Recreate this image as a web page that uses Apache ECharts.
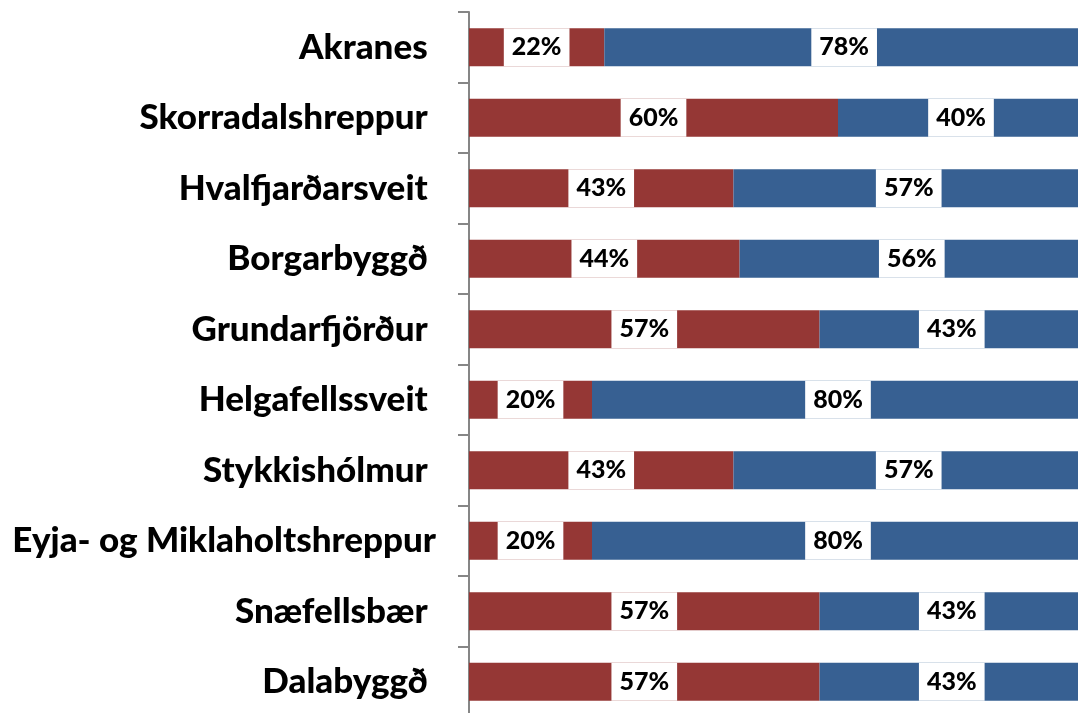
<!DOCTYPE html>
<html>
<head>
<meta charset="utf-8">
<script src="https://cdn.jsdelivr.net/npm/echarts@6/dist/echarts.min.js"></script>
<style>
html,body{margin:0;padding:0;background:#fff;}
#chart{width:1078px;height:713px;}
</style>
</head>
<body>
<div id="chart"></div>
<script>
const categories = ["Akranes ", "Skorradalshreppur ", "Hvalfjarðarsveit ", "Borgarbyggð ", "Grundarfjörður ", "Helgafellssveit ", "Stykkishólmur ", "Eyja- og Miklaholtshreppur", "Snæfellsbær ", "Dalabyggð "];
const redValues = [22, 60, 43, 44, 57, 20, 43, 20, 57, 57];
const blueValues = [78, 40, 57, 56, 43, 80, 57, 80, 43, 43];

const chart = echarts.init(document.getElementById('chart'), null, {renderer: 'canvas'});
const labelStyle = {
  show: true,
  position: 'inside',
  formatter: p => p.value + '%',
  fontFamily: 'Lato',
  fontWeight: 900,
  fontSize: 25,
  color: '#000',
  backgroundColor: '#fff',
  padding: [0, 8],
  lineHeight: 38
};
chart.setOption({
  animation: false,
  grid: {left: 469, top: 12, width: 615, height: 705, outerBoundsMode: 'none', containLabel: false},
  xAxis: {type: 'value', min: 0, max: 100, show: false},
  yAxis: {
    type: 'category',
    data: categories,
    inverse: true,
    axisLine: {show: true, lineStyle: {color: '#868686', width: 2}},
    axisTick: {show: true, length: 11, lineStyle: {color: '#868686', width: 2}},
    axisLabel: {
      margin: 33,
      fontFamily: 'Lato',
      fontWeight: 900,
      fontSize: 35,
      color: '#000'
    }
  },
  series: [
    {type: 'bar', stack: 'a', data: redValues, barWidth: 38, itemStyle: {color: '#953735'}, label: labelStyle},
    {type: 'bar', stack: 'a', data: blueValues, barWidth: 38, itemStyle: {color: '#376092'}, label: labelStyle}
  ]
});
</script>
</body>
</html>
